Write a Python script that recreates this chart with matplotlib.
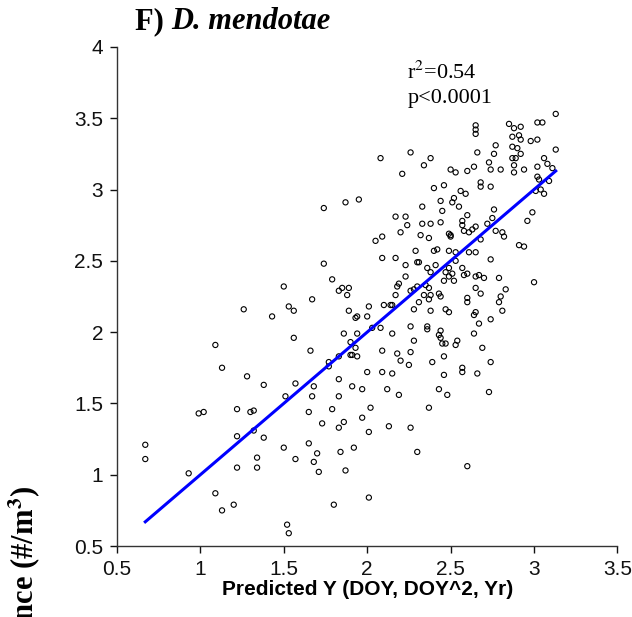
import numpy as np
import matplotlib
matplotlib.use('Agg')
import matplotlib.pyplot as plt

plt.rcParams['font.family'] = ['Liberation Sans', 'DejaVu Sans']
plt.rcParams['mathtext.fontset'] = 'stix'

predicted = [0.67, 0.67, 0.93, 0.99, 1.02, 1.22, 1.30, 1.32, 1.22, 1.32,
             1.38, 1.09, 1.13, 1.20, 1.22, 1.34, 1.34, 1.50, 1.57, 1.52,
             1.53, 1.65, 1.65, 1.73, 1.79, 1.68, 1.70, 1.71, 1.83, 1.84,
             1.86, 1.87, 1.80, 1.92, 1.97, 2.01, 2.02, 2.01, 2.13, 2.26,
             2.30, 2.37, 2.60, 1.51, 1.67, 1.74, 1.50, 1.67, 1.26, 1.53,
             1.56, 1.43, 1.56, 1.09, 1.66, 1.13, 1.28, 1.38, 1.57, 1.68,
             1.77, 1.74, 1.87, 1.95, 1.79, 1.83, 1.85, 1.89, 1.88, 1.89,
             1.93, 1.94, 1.86, 1.94, 1.90, 1.93, 1.90, 1.91, 1.83, 1.94,
             1.77, 1.83, 2.65, 2.65, 2.65, 2.66, 2.08, 2.26, 2.38, 2.21,
             2.34, 2.50, 2.53, 2.60, 2.64, 2.40, 2.46, 2.56, 2.59, 2.52,
             2.51, 2.44, 2.33, 2.55, 2.45, 2.60, 2.17, 2.23, 2.24, 2.33,
             2.38, 2.44, 2.57, 2.57, 2.20, 2.09, 2.05, 2.32, 2.37, 2.49,
             2.50, 2.50, 2.58, 2.61, 2.63, 2.65, 2.09, 2.17, 2.29, 2.40,
             2.42, 2.49, 2.53, 2.61, 2.65, 2.30, 2.31, 2.23, 2.53, 2.23,
             2.36, 2.41, 2.38, 2.49, 2.47, 2.51, 2.49, 2.57, 2.60, 2.58,
             2.46, 2.52, 2.65, 2.19, 2.18, 2.30, 2.35, 2.37, 2.65,
             3.13, 3.02, 3.05, 2.85, 2.88, 2.92, 2.87, 2.91, 2.92, 2.98,
             3.02, 2.77, 2.87, 2.90, 2.76, 2.92, 3.13, 2.87, 2.89, 2.73,
             3.06, 3.08, 2.88, 2.74, 2.80, 2.94, 3.02, 2.88, 3.11, 3.02,
             3.03, 3.09, 2.68, 2.68, 2.74, 3.01, 3.04, 3.06, 2.76, 2.75,
             2.99, 2.96, 2.72, 2.77, 2.81, 2.82, 2.68, 2.91, 2.94, 2.74,
             2.67, 2.70, 2.79, 3.00,
             2.17, 2.26, 2.28, 2.34, 2.37, 2.38, 2.43, 2.44, 2.31, 2.01,
             2.10, 2.14, 2.15, 2.00, 2.28, 2.38, 2.47, 2.49, 2.60, 2.60,
             2.64, 2.65, 2.67, 2.03, 2.08, 2.15, 2.26, 2.36, 2.36, 2.44,
             2.43, 2.44, 2.45, 2.47, 2.54, 2.53, 2.64, 2.28, 2.09, 2.18,
             2.26, 2.20, 2.25, 2.39, 2.46, 2.00, 2.09, 2.15, 2.57, 2.57,
             2.66, 2.46, 1.91, 1.97, 2.12, 2.43, 2.19, 2.48, 1.83,
             2.68, 2.83, 2.80, 2.79, 2.81, 2.74, 2.69, 2.74, 2.73]

observed = [1.21, 1.11, 1.01, 1.43, 1.44, 1.46, 1.44, 1.45, 1.27, 1.31,
            1.26, 0.87, 0.75, 0.79, 1.05, 1.12, 1.05, 1.19, 1.11, 0.65,
            0.59, 1.44, 1.22, 1.36, 1.46, 1.09, 1.15, 1.02, 1.33, 1.16,
            1.37, 1.03, 0.79, 1.19, 1.40, 1.30, 1.47, 0.84, 1.34, 1.33,
            1.16, 1.47, 1.06, 1.55, 1.55, 2.48, 2.32, 2.23, 2.16, 2.18,
            2.15, 2.11, 1.96, 1.91, 1.87, 1.75, 1.69, 1.63, 1.64, 1.62,
            1.76, 2.87, 2.91, 2.93, 2.37, 2.29, 2.31, 2.31, 2.26, 2.15,
            2.10, 2.11, 1.99, 1.99, 1.93, 1.89, 1.84, 1.84, 1.83, 1.83,
            1.79, 1.67, 3.45, 3.42, 3.39, 3.26, 3.22, 3.26, 3.22, 3.11,
            3.17, 3.14, 3.12, 3.13, 3.16, 3.01, 3.03, 2.99, 2.97, 2.94,
            2.91, 2.92, 2.88, 2.88, 2.85, 2.82, 2.81, 2.81, 2.75, 2.76,
            2.76, 2.77, 2.78, 2.75, 2.70, 2.67, 2.64, 2.68, 2.66, 2.69,
            2.67, 2.68, 2.71, 2.70, 2.72, 2.74, 2.52, 2.52, 2.57, 2.57,
            2.58, 2.57, 2.56, 2.56, 2.56, 2.49, 2.49, 2.47, 2.50, 2.39,
            2.45, 2.47, 2.42, 2.45, 2.42, 2.41, 2.39, 2.45, 2.41, 2.40,
            2.36, 2.36, 2.39, 2.34, 2.32, 2.32, 2.33, 2.31, 2.31,
            3.53, 3.47, 3.47, 3.46, 3.43, 3.44, 3.37, 3.38, 3.35, 3.34,
            3.35, 3.31, 3.30, 3.29, 3.25, 3.25, 3.28, 3.22, 3.22, 3.19,
            3.22, 3.18, 3.17, 3.14, 3.14, 3.14, 3.16, 3.12, 3.15, 3.09,
            3.07, 3.06, 3.05, 3.02, 3.02, 2.99, 3.00, 2.97, 2.86, 2.80,
            2.84, 2.78, 2.76, 2.71, 2.70, 2.67, 2.65, 2.61, 2.60, 2.51,
            2.40, 2.38, 2.38, 2.35,
            2.26, 2.29, 2.30, 2.26, 2.23, 2.26, 2.27, 2.25, 2.21, 2.18,
            2.19, 2.19, 2.19, 2.11, 2.16, 2.15, 2.16, 2.14, 2.24, 2.21,
            2.12, 2.14, 2.06, 2.03, 2.03, 1.99, 2.04, 2.04, 2.02, 2.01,
            1.98, 1.96, 1.92, 1.92, 1.94, 1.91, 1.99, 1.94, 1.87, 1.85,
            1.86, 1.80, 1.77, 1.79, 1.83, 1.72, 1.72, 1.71, 1.75, 1.72,
            1.71, 1.70, 1.62, 1.60, 1.60, 1.60, 1.56, 1.56, 1.55,
            2.27, 2.30, 2.25, 2.21, 2.15, 2.09, 1.89, 1.79, 1.58]

x_ticks = [0.5, 1, 1.5, 2, 2.5, 3, 3.5]
y_ticks = [0.5, 1, 1.5, 2, 2.5, 3, 3.5, 4]

pred = np.array(predicted)
obs = np.array(observed)

fig = plt.figure(figsize=(6.32, 6.17), dpi=100)
ax = fig.add_axes([0.185, 0.115, 0.792, 0.809])

ax.scatter(pred, obs, s=14, facecolors='none', edgecolors='black', linewidths=0.8, zorder=2)

# fitted line: observed regressed on predicted -> y = x over the predicted range
line_x = np.array([pred.min(), pred.max()])
ax.plot(line_x, line_x, color='#0000ff', lw=2.2, zorder=3)

ax.set_xlim(0.5, 3.5)
ax.set_ylim(0.5, 4)
ax.set_xticks(x_ticks)
ax.set_yticks(y_ticks)
ax.set_xticklabels(['%g' % t for t in x_ticks])
ax.set_yticklabels(['%g' % t for t in y_ticks])
for s in ['top', 'right']:
    ax.spines[s].set_visible(False)
for s in ['left', 'bottom']:
    ax.spines[s].set_linewidth(1.0)
    ax.spines[s].set_color('#333333')
ax.tick_params(direction='out', length=5, width=1, labelsize=15, pad=5, colors='#111111')

ax.set_xlabel('Predicted Y (DOY, DOY^2, Yr)', fontsize=15, fontweight='bold', labelpad=1)

ax.text(2.24, 3.82, r'r$^2$=0.54', fontsize=16, family='Liberation Serif', va='center')
ax.text(2.24, 3.64, 'p<0.0001', fontsize=16, family='Liberation Serif', va='center')

# title: "F)" upright, species name italic
t1 = fig.text(135 / 632, 1 - 29 / 617, 'F) ', fontsize=22, fontweight='bold',
              family='Liberation Serif', va='baseline')
r = fig.canvas.get_renderer()
bb = t1.get_window_extent(r)
fig.text(bb.x1 / fig.bbox.width, 1 - 29 / 617, 'D. mendotae', fontsize=22, fontweight='bold',
         fontstyle='italic', family='Liberation Serif', va='baseline')

# y label runs off the bottom of the figure
fig.text(25 / 632, 1 - 486 / 617, r'Log Abundance (#/m$^\mathbf{3}$)', rotation=90, fontsize=22,
         fontweight='bold', family='Liberation Serif', ha='center', va='top')

fig.savefig('out.png', dpi=100)
